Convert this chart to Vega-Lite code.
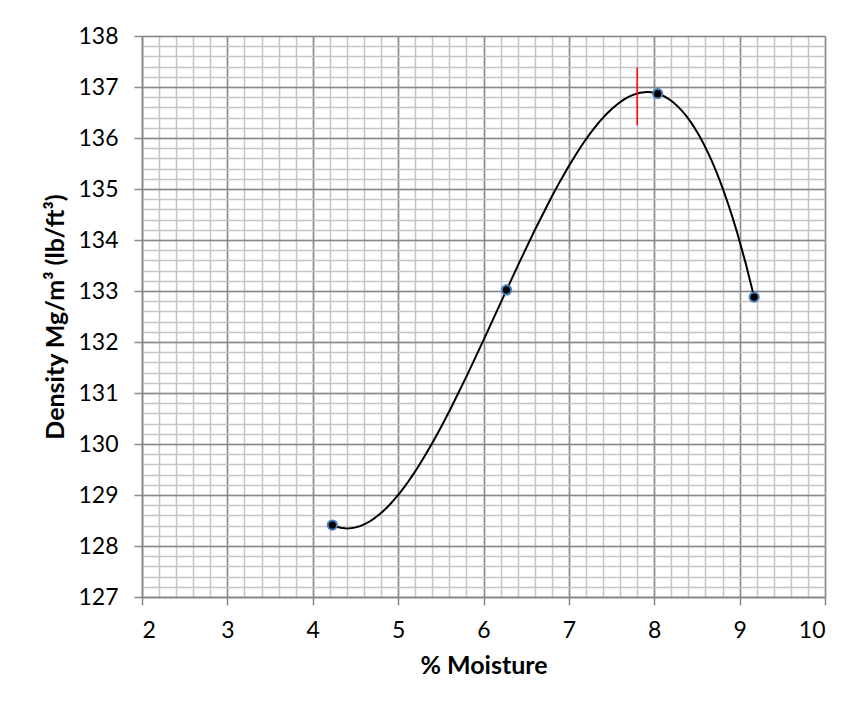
{
  "$schema": "https://vega.github.io/schema/vega-lite/v6.json",
  "autosize": "none",
  "width": 683,
  "height": 561,
  "padding": {"left": 142, "top": 36, "right": 34, "bottom": 119},
  "background": "white",
  "config": {
    "view": {"stroke": null},
    "axis": {"labelFont": "Lato", "titleFont": "Lato", "labelColor": "#000000", "titleColor": "#000000"}
  },
  "datasets": {
    "points": [
      {"moisture": 4.23, "density": 128.41},
      {"moisture": 6.27, "density": 133.02},
      {"moisture": 8.04, "density": 136.87},
      {"moisture": 9.17, "density": 132.88}
    ],
    "marker": [
      {"moisture": 7.8, "low": 136.25, "high": 137.38}
    ]
  },
  "resolve": {"axis": {"x": "independent", "y": "independent"}},
  "layer": [
    {
      "data": {"name": "points"},
      "transform": [{"regression": "density", "on": "moisture", "method": "poly", "order": 3}],
      "mark": {"type": "line", "color": "#000000", "strokeWidth": 2},
      "encoding": {
        "x": {"field": "moisture", "type": "quantitative",
          "scale": {"domain": [2, 10], "nice": false, "zero": false},
          "axis": {"orient": "bottom", "title": null, "labels": false, "ticks": false, "domain": false,
            "grid": true, "gridColor": "#c4c4c4", "gridWidth": 1.5,
            "values": [2,2.2,2.4,2.6,2.8,3,3.2,3.4,3.6,3.8,4,4.2,4.4,4.6,4.8,5,5.2,5.4,5.6,5.8,6,6.2,6.4,6.6,6.8,7,7.2,7.4,7.6,7.8,8,8.2,8.4,8.6,8.8,9,9.2,9.4,9.6,9.8,10]}},
        "y": {"field": "density", "type": "quantitative",
          "scale": {"domain": [127, 138], "nice": false, "zero": false},
          "axis": {"orient": "left", "title": null, "labels": false, "ticks": false, "domain": false,
            "grid": true, "gridColor": "#c4c4c4", "gridWidth": 1.5,
            "values": [127,127.2,127.4,127.6,127.8,128,128.2,128.4,128.6,128.8,129,129.2,129.4,129.6,129.8,130,130.2,130.4,130.6,130.8,131,131.2,131.4,131.6,131.8,132,132.2,132.4,132.6,132.8,133,133.2,133.4,133.6,133.8,134,134.2,134.4,134.6,134.8,135,135.2,135.4,135.6,135.8,136,136.2,136.4,136.6,136.8,137,137.2,137.4,137.6,137.8,138]}}
      }
    },
    {
      "data": {"name": "points"},
      "mark": {"type": "point", "filled": true, "fill": "#000000", "stroke": "#4a7ebb", "strokeWidth": 2, "size": 85, "opacity": 1},
      "encoding": {
        "x": {"field": "moisture", "type": "quantitative",
          "axis": {"orient": "bottom", "title": "% Moisture", "values": [2,3,4,5,6,7,8,9,10],
            "grid": true, "gridColor": "#888888", "gridWidth": 1.5,
            "domainColor": "#888888", "domainWidth": 1.5, "tickColor": "#888888", "tickWidth": 1.5, "tickSize": 8,
            "labelFontSize": 23, "labelPadding": 14, "titleFontSize": 25, "titleFontWeight": "bold", "titlePadding": 11, "format": "d"}},
        "y": {"field": "density", "type": "quantitative",
          "axis": {"orient": "left", "title": "Density Mg/m³ (lb/ft³)", "values": [127,128,129,130,131,132,133,134,135,136,137,138],
            "grid": true, "gridColor": "#888888", "gridWidth": 1.5,
            "domainColor": "#888888", "domainWidth": 1.5, "tickColor": "#888888", "tickWidth": 1.5, "tickSize": 8,
            "labelFontSize": 23, "labelPadding": 16, "titleFontSize": 25, "titleFontWeight": "bold", "titlePadding": 9, "format": "d"}}
      }
    },
    {
      "data": {"name": "marker"},
      "mark": {"type": "rule", "color": "#ff0000", "strokeWidth": 1.5},
      "encoding": {
        "x": {"field": "moisture", "type": "quantitative", "axis": null},
        "y": {"field": "low", "type": "quantitative", "axis": null},
        "y2": {"field": "high"}
      }
    }
  ]
}
